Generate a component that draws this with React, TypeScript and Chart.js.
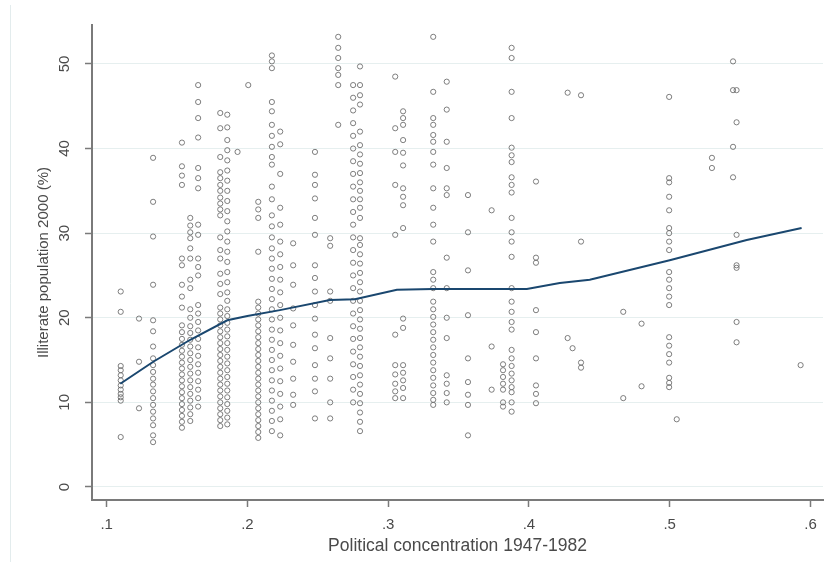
import React, { useEffect, useRef } from "react";
import { Chart, registerables } from "chart.js";

Chart.register(...registerables);

// x-position (political concentration) of each column of observations
const clusterX: number[] = [
  0.11, 0.123, 0.133, 0.1535, 0.1594, 0.165, 0.1807, 0.1857, 0.193, 0.2006,
  0.2077, 0.2174, 0.2233, 0.2325, 0.248, 0.2588, 0.2645, 0.2751, 0.28, 0.305,
  0.3106, 0.332, 0.3416, 0.3567, 0.3735, 0.3816, 0.3877, 0.405, 0.4275, 0.431,
  0.437, 0.467, 0.48, 0.4996, 0.505, 0.53, 0.545, 0.5475, 0.593,
];

// illiterate population (%) for each column
const clusterY: number[][] = [
  [23.1, 20.7, 14.3, 13.8, 13.2, 12.6, 12.0, 11.5, 11.0, 10.6, 10.2, 5.9],
  [19.9, 14.8, 9.3],
  [38.9, 33.7, 29.6, 23.9, 19.7, 18.4, 16.6, 15.2, 14.4, 13.6, 12.8, 12.1, 11.3, 10.5, 9.7, 8.9, 8.1, 7.3, 6.1, 5.3],
  [40.7, 37.9, 36.8, 35.7, 27.0, 26.2, 23.9, 22.5, 21.2, 19.1, 18.3, 17.5, 16.8, 16.1, 15.4, 14.7, 14.0, 13.3, 12.6, 11.9, 11.2, 10.5, 9.8, 9.1, 8.4, 7.7, 7.0],
  [31.8, 30.9, 30.1, 29.4, 28.2, 27.0, 24.5, 23.5, 21.0, 20.0, 19.0, 18.2, 17.4, 16.6, 15.8, 15.0, 14.2, 13.4, 12.6, 11.8, 11.0, 10.2, 9.4, 8.6, 7.8],
  [47.5, 45.5, 43.6, 41.3, 37.7, 36.5, 35.3, 31.0, 29.8, 27.0, 26.0, 25.0, 21.5, 20.5, 19.5, 18.5, 17.5, 16.5, 15.5, 14.5, 13.5, 12.5, 11.5, 10.5, 9.5],
  [44.2, 42.4, 39.0, 37.2, 36.5, 35.7, 35.0, 34.2, 33.5, 32.8, 32.1, 29.5, 28.0, 27.0, 25.2, 24.0, 22.8, 21.2, 20.5, 19.8, 19.1, 18.4, 17.7, 17.0, 16.3, 15.6, 14.9, 14.2, 13.5, 12.8, 12.1, 11.4, 10.7, 10.0, 9.3, 8.6, 7.9, 7.2],
  [44.0, 42.5, 41.0, 39.8, 38.6, 37.4, 36.2, 35.0, 33.8, 32.6, 31.4, 30.2, 29.0, 27.8, 26.6, 25.4, 24.2, 23.0, 22.0, 21.0, 20.2, 19.4, 18.6, 17.8, 17.0, 16.2, 15.4, 14.6, 13.8, 13.0, 12.2, 11.4, 10.6, 9.8, 9.0, 8.2, 7.4],
  [39.6],
  [47.5],
  [33.7, 32.8, 31.8, 27.8, 21.9, 21.2, 20.5, 19.8, 19.1, 18.4, 17.7, 17.0, 16.3, 15.6, 14.9, 14.2, 13.5, 12.8, 12.1, 11.4, 10.7, 10.0, 9.3, 8.6, 7.9, 7.2, 6.5, 5.8],
  [51.0, 50.3, 49.5, 45.5, 44.4, 42.8, 41.5, 40.2, 39.0, 38.1, 35.5, 34.0, 32.1, 30.8, 29.5, 28.2, 27.0, 25.8, 24.6, 23.4, 22.2, 21.0, 19.8, 18.6, 17.4, 16.2, 15.0, 13.8, 12.6, 11.4, 10.2, 9.0, 7.8, 6.6],
  [42.0, 40.5, 37.0, 33.0, 31.0, 29.0, 27.5, 26.0, 24.5, 23.0, 21.5, 20.0, 18.5, 17.0, 15.5, 14.0, 12.5, 11.0, 9.5, 8.0, 6.1],
  [28.8, 26.2, 23.9, 21.1, 19.1, 16.8, 14.8, 12.8, 10.9, 9.7],
  [39.6, 36.9, 35.7, 34.1, 31.8, 29.8, 26.2, 24.7, 23.1, 21.5, 19.9, 18.0, 16.4, 14.4, 12.8, 11.3, 8.1],
  [29.4, 28.5, 23.1, 22.0, 17.6, 15.2, 12.8, 10.0, 8.1],
  [53.2, 51.9, 50.7, 49.5, 48.7, 47.5, 42.8],
  [47.5, 46.0, 44.5, 43.0, 41.5, 40.0, 38.5, 37.0, 35.5, 34.0, 32.5, 31.0, 29.5, 28.0, 26.5, 25.0, 23.5, 22.0, 20.5, 19.0, 17.5, 16.0, 14.5, 13.0, 11.5, 10.0],
  [49.7, 47.5, 46.3, 45.2, 42.0, 40.4, 39.3, 38.2, 37.1, 36.0, 35.0, 34.0, 33.0, 31.8, 29.4, 28.6, 27.5, 26.4, 25.3, 24.2, 23.1, 22.0, 20.9, 19.8, 18.7, 17.6, 16.5, 15.4, 14.3, 13.2, 12.1, 11.0, 9.9, 8.8, 7.7, 6.6],
  [48.5, 42.4, 39.6, 35.7, 29.8, 18.0, 14.4, 13.3, 12.2, 11.3, 10.5],
  [44.4, 43.6, 42.8, 41.0, 39.5, 38.0, 35.3, 34.3, 33.3, 30.6, 19.9, 18.8, 14.4, 13.5, 12.6, 11.7, 10.5],
  [53.2, 46.7, 43.6, 42.8, 41.6, 40.8, 39.6, 38.1, 35.3, 33.0, 31.0, 29.0, 25.4, 24.5, 23.5, 21.9, 21.0, 20.1, 19.2, 18.3, 17.4, 16.5, 15.6, 14.7, 13.8, 12.9, 12.0, 11.1, 10.3, 9.7],
  [47.9, 44.6, 40.8, 37.7, 35.3, 34.5, 27.1, 23.5, 20.0, 17.6, 13.2, 12.2, 11.1, 10.0],
  [34.5, 30.1, 25.6, 20.3, 15.2, 12.4, 10.9, 9.7, 6.1],
  [32.7, 16.6, 11.5],
  [14.5, 13.8, 13.0, 12.2, 11.5, 10.0, 9.5],
  [51.9, 50.7, 46.7, 43.6, 40.1, 39.2, 38.4, 36.6, 35.7, 34.8, 31.8, 30.1, 29.0, 27.2, 23.5, 21.9, 20.7, 19.5, 18.6, 16.2, 15.2, 14.3, 13.4, 12.6, 11.8, 11.2, 10.0, 8.9],
  [36.1, 27.1, 26.5, 20.9, 18.3, 15.2, 12.0, 11.0, 9.9],
  [46.6, 17.6],
  [16.4],
  [46.3, 29.0, 14.7, 14.1],
  [20.7, 10.5],
  [19.3, 11.9],
  [46.1, 36.5, 36.0, 34.3, 32.7, 30.6, 30.0, 29.0, 28.0, 25.4, 24.5, 23.5, 22.5, 21.5, 17.7, 16.7, 15.7, 14.7, 12.9, 12.3, 11.8],
  [8.0],
  [38.9, 37.7],
  [50.3, 46.9, 40.2, 36.6],
  [46.9, 43.1, 29.8, 26.2, 25.9, 19.5, 17.1],
  [14.4],
];

// lowess fit
const fitX: number[] = [0.1097, 0.1331, 0.1594, 0.1857, 0.2, 0.2231, 0.2586, 0.2764, 0.3062, 0.3318, 0.3985, 0.4219, 0.4432, 0.5, 0.5547, 0.5937];
const fitY: number[] = [12.2, 14.8, 17.4, 19.7, 20.2, 20.9, 22.1, 22.2, 23.3, 23.4, 23.4, 24.1, 24.5, 26.8, 29.2, 30.6];

const xTicks: number[] = [0.1, 0.2, 0.3, 0.4, 0.5, 0.6];
const xTickLabels: string[] = [".1", ".2", ".3", ".4", ".5", ".6"];
const yTicks: number[] = [0, 10, 20, 30, 40, 50];

const xTitle = "Political concentration 1947-1982";
const yTitle = "Illiterate population 2000 (%)";

const FONT = '15px "Liberation Sans", Arial, sans-serif';
const XTITLE_FONT = '17.5px "Liberation Sans", Arial, sans-serif';
const TEXT = "#4a4a4a";
const AXIS = "#7a7a7a";

export default function App() {
  const ref = useRef<HTMLCanvasElement | null>(null);

  useEffect(() => {
    document.body.style.margin = "0";
    const canvas = ref.current;
    if (!canvas) return;

    const points: { x: number; y: number }[] = [];
    clusterX.forEach((x, i) => {
      clusterY[i].forEach((y) => points.push({ x, y }));
    });
    const fit = fitX.map((x, i) => ({ x, y: fitY[i] }));

    const textPlugin = {
      id: "stataText",
      beforeDraw(chart: any) {
        const ctx = chart.ctx;
        ctx.save();
        ctx.fillStyle = "#ffffff";
        ctx.fillRect(0, 0, chart.width, chart.height);
        ctx.strokeStyle = "#e3eced";
        ctx.lineWidth = 1;
        ctx.beginPath();
        ctx.moveTo(10.5, 5);
        ctx.lineTo(10.5, chart.height);
        ctx.stroke();
        ctx.restore();
      },
      afterDraw(chart: any) {
        const ctx = chart.ctx;
        const xs = chart.scales.x;
        const ys = chart.scales.y;
        const area = chart.chartArea;
        ctx.save();
        ctx.fillStyle = TEXT;
        ctx.font = FONT;
        ctx.textAlign = "center";
        ctx.textBaseline = "middle";
        yTicks.forEach((v) => {
          const py = ys.getPixelForValue(v);
          ctx.save();
          ctx.translate(65, py);
          ctx.rotate(-Math.PI / 2);
          ctx.fillText(String(v), 0, 0);
          ctx.restore();
        });
        xTicks.forEach((v, i) => {
          ctx.fillText(xTickLabels[i], xs.getPixelForValue(v), 525);
        });
        ctx.save();
        ctx.translate(44, (area.top + area.bottom) / 2);
        ctx.rotate(-Math.PI / 2);
        ctx.fillText(yTitle, 0, 0);
        ctx.restore();
        ctx.font = XTITLE_FONT;
        ctx.fillText(xTitle, (area.left + area.right) / 2, 546);
        ctx.restore();
      },
    };

    const chart = new Chart(canvas, {
      type: "scatter",
      data: {
        datasets: [
          {
            type: "line",
            data: fit,
            borderColor: "#1a476f",
            borderWidth: 2,
            pointRadius: 0,
            fill: false,
            tension: 0,
            order: 0,
          } as any,
          {
            data: points,
            pointStyle: "circle",
            pointRadius: 2.6,
            borderWidth: 1,
            borderColor: "rgba(105,105,105,0.85)",
            backgroundColor: "rgba(0,0,0,0)",
            order: 1,
          },
        ],
      },
      options: {
        animation: false,
        responsive: false,
        devicePixelRatio: 1,
        layout: { padding: { top: 25, right: 8, left: 0, bottom: 0 } },
        plugins: { legend: { display: false }, tooltip: { enabled: false } },
        scales: {
          x: {
            type: "linear",
            min: 0.0896,
            max: 0.6089,
            afterBuildTicks: (s: any) => {
              s.ticks = xTicks.map((v) => ({ value: v }));
            },
            afterFit: (s: any) => {
              s.height = 62;
            },
            ticks: { display: false },
            grid: {
              drawOnChartArea: false,
              drawTicks: true,
              tickLength: 7,
              tickColor: AXIS,
              tickWidth: 1.5,
            },
            border: { display: true, color: AXIS, width: 2 },
          },
          y: {
            type: "linear",
            min: -1.54,
            max: 54.6,
            afterBuildTicks: (s: any) => {
              s.ticks = yTicks.map((v) => ({ value: v }));
            },
            afterFit: (s: any) => {
              s.width = 92;
            },
            ticks: { display: false },
            grid: {
              color: "#e6efef",
              lineWidth: 1,
              drawTicks: true,
              tickLength: 7,
              tickColor: AXIS,
              tickWidth: 1.5,
            },
            border: { display: true, color: AXIS, width: 2 },
          },
        },
      },
      plugins: [textPlugin],
    });

    return () => chart.destroy();
  }, []);

  return (
    <div style={{ width: 831, height: 562 }}>
      <canvas ref={ref} width={831} height={562} style={{ display: "block" }} />
    </div>
  );
}
